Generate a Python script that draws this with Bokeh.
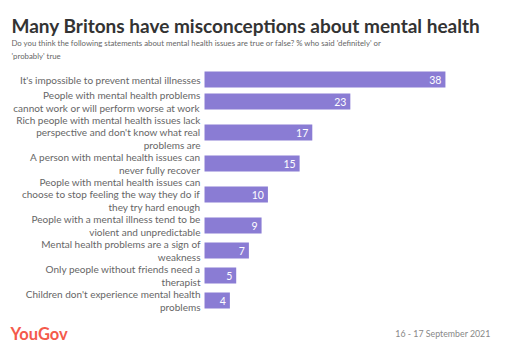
from bokeh.plotting import figure
from bokeh.models import Range1d, ColumnDataSource
from bokeh.core.properties import value
from bokeh.embed import file_html
from bokeh.resources import INLINE

# ---- data ----
statements = [
    "It's impossible to prevent mental illnesses",
    "People with mental health problems\ncannot work or will perform worse at work",
    "Rich people with mental health issues lack\nperspective and don't know what real\nproblems are",
    "A person with mental health issues can\nnever fully recover",
    "People with mental health issues can\nchoose to stop feeling the way they do if\nthey try hard enough",
    "People with a mental illness tend to be\nviolent and unpredictable",
    "Mental health problems are a sign of\nweakness",
    "Only people without friends need a\ntherapist",
    "Children don't experience mental health\nproblems",
]
pct_true = [38, 23, 17, 15, 10, 9, 7, 5, 4]

title = "Many Britons have misconceptions about mental health"
subtitle = ("Do you think the following statements about mental health issues are true or false? % who said 'definitely' or\n"
            "'probably' true")
brand = "YouGov"
date_note = "16 - 17 September 2021"

W, H = 494, 342
BAR_COL = "#8a7cd4"
FONT = "Lato"

# row layout: row height depends on number of label lines
row_h = {1: 19, 2: 25, 3: 37}
centers = []
y = 69.5
for s in statements:
    h = row_h[s.count("\n") + 1]
    centers.append(y + h / 2)
    y += h

src = ColumnDataSource(dict(y=centers, v=pct_true, lab=statements,
                            vt=[str(v) for v in pct_true]))

p = figure(width=W, height=H, output_backend="svg", toolbar_location=None,
           x_range=Range1d(-32.18, 45.74), y_range=Range1d(H, 0),
           min_border=0, outline_line_color=None)
p.extra_x_ranges = {"px": Range1d(0, W)}
p.axis.visible = False
p.grid.visible = False
p.background_fill_color = "white"
p.border_fill_color = "white"

p.hbar(y="y", right="v", left=0, height=16, source=src,
       fill_color=BAR_COL, line_color=None)

p.text(x=0, y="y", text="lab", source=src, x_offset=-4,
       text_align="right", text_baseline="middle",
       text_font=value(FONT), text_font_size="10px", text_color="#666666",
       text_line_height=1.05)

p.text(x="v", y="y", text="vt", source=src, x_offset=-4,
       text_align="right", text_baseline="middle",
       text_font=value(FONT), text_font_size="10.5px", text_color="white")

# title / subtitle / footer in pixel coordinates
p.text(x=[11], y=[25], text=[title], x_range_name="px",
       text_align="left", text_baseline="alphabetic",
       text_font=value(FONT), text_font_style="bold", text_font_size="19px",
       text_color="#333333")
p.text(x=[11], y=[37], text=[subtitle], x_range_name="px",
       text_align="left", text_baseline="top",
       text_font=value(FONT), text_font_size="7.8px", text_color="#666666",
       text_line_height=1.3)
p.text(x=[10], y=[333], text=[brand], x_range_name="px",
       text_align="left", text_baseline="middle",
       text_font=value(FONT), text_font_style="bold", text_font_size="16.5px",
       text_color="#f45a4b")
p.text(x=[490], y=[333], text=[date_note], x_range_name="px",
       text_align="right", text_baseline="middle",
       text_font=value(FONT), text_font_size="8.8px", text_color="#888888")

open("out.html", "w").write(file_html(p, INLINE))
